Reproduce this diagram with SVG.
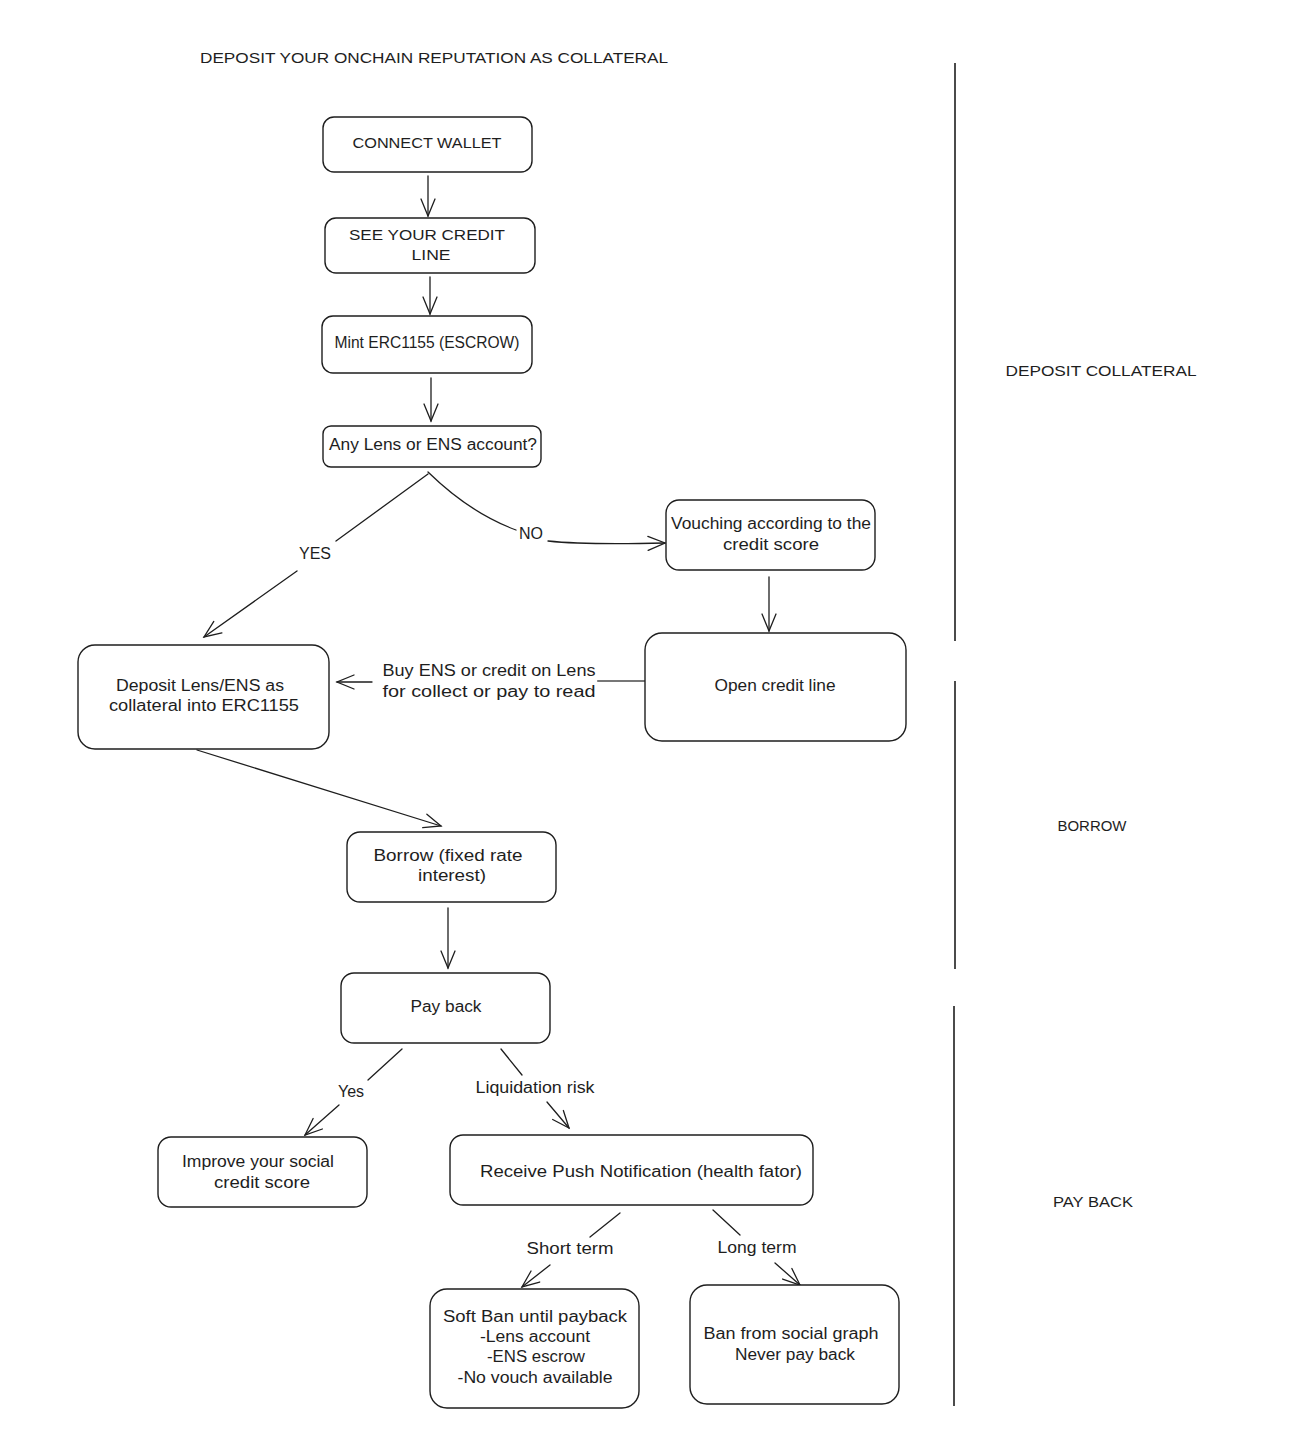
<svg xmlns="http://www.w3.org/2000/svg" width="1298" height="1434" viewBox="0 0 1298 1434">
<style>
.box{fill:#ffffff;stroke:#1e1e1e;stroke-width:1.4}
.t{font-family:"Liberation Sans","DejaVu Sans",sans-serif;font-size:16px;fill:#1e1e1e;text-anchor:middle}
.c{font-family:"Liberation Sans","DejaVu Sans",sans-serif;font-size:15px;fill:#1e1e1e;text-anchor:middle}
.ln{fill:none;stroke:#1e1e1e;stroke-width:1.3;stroke-linecap:round}
.sep{fill:none;stroke:#1e1e1e;stroke-width:1.6}
</style>
<defs>
<marker id="ah" markerWidth="20" markerHeight="20" refX="0" refY="0" orient="auto" markerUnits="userSpaceOnUse" overflow="visible">
<path d="M-17,-7 L0,0 L-17,7" fill="none" stroke="#1e1e1e" stroke-width="1.3" stroke-linecap="round"/>
</marker>
</defs>
<rect width="1298" height="1434" fill="#ffffff"/>

<g id="title">
<text class="c" x="434" y="63" textLength="468" lengthAdjust="spacingAndGlyphs">DEPOSIT YOUR ONCHAIN REPUTATION AS COLLATERAL</text>
</g>

<g id="sections">
<path class="sep" d="M955 63 L955 641"/>
<path class="sep" d="M955 681 L955 969"/>
<path class="sep" d="M954 1006 L954 1406"/>
<text class="c" x="1101" y="376" textLength="191" lengthAdjust="spacingAndGlyphs">DEPOSIT COLLATERAL</text>
<text class="c" x="1092" y="831" textLength="69" lengthAdjust="spacingAndGlyphs">BORROW</text>
<text class="c" x="1093" y="1207" textLength="80" lengthAdjust="spacingAndGlyphs">PAY BACK</text>
</g>

<g id="connectors">
<path class="ln" d="M428 176 L428 216" marker-end="url(#ah)"/>
<path class="ln" d="M430 277 L430 314" marker-end="url(#ah)"/>
<path class="ln" d="M431 378 L431 421" marker-end="url(#ah)"/>
<path class="ln" d="M428 474 L336 541"/>
<path class="ln" d="M297 571 L204 637" marker-end="url(#ah)"/>
<path class="ln" d="M428 472 Q470 513 516 530"/>
<path class="ln" d="M548 541 Q585 545 665 543" marker-end="url(#ah)"/>
<text class="t" x="315" y="559">YES</text>
<text class="t" x="531" y="539">NO</text>
<path class="ln" d="M769 577 L769 631" marker-end="url(#ah)"/>
<path class="ln" d="M645 681 L598 681" style="stroke:#777;stroke-width:2.2"/>
<path class="ln" d="M372 682 L337 682" marker-end="url(#ah)"/>
<text class="t" x="489" y="676" textLength="213" lengthAdjust="spacingAndGlyphs">Buy ENS or credit on Lens</text>
<text class="t" x="489" y="697" textLength="213" lengthAdjust="spacingAndGlyphs">for collect or pay to read</text>
<path class="ln" d="M197 750 L441 826" marker-end="url(#ah)"/>
<path class="ln" d="M448 908 L448 968" marker-end="url(#ah)"/>
<path class="ln" d="M402 1049 L368 1080"/>
<path class="ln" d="M339 1105 L305 1135" marker-end="url(#ah)"/>
<text class="t" x="351" y="1097">Yes</text>
<path class="ln" d="M501 1049 L522 1075"/>
<path class="ln" d="M547 1102 L569 1128" marker-end="url(#ah)"/>
<text class="t" x="535" y="1093" textLength="119" lengthAdjust="spacingAndGlyphs">Liquidation risk</text>
<path class="ln" d="M620 1213 L590 1237"/>
<path class="ln" d="M550 1265 L522 1287" marker-end="url(#ah)"/>
<text class="t" x="570" y="1254" textLength="87" lengthAdjust="spacingAndGlyphs">Short term</text>
<path class="ln" d="M713 1210 L740 1235"/>
<path class="ln" d="M775 1263 L800 1285" marker-end="url(#ah)"/>
<text class="t" x="757" y="1253" textLength="79" lengthAdjust="spacingAndGlyphs">Long term</text>
</g>

<g id="n1">
<rect class="box" x="323" y="117" width="209" height="55" rx="11"/>
<text class="c" x="427" y="148" textLength="149" lengthAdjust="spacingAndGlyphs">CONNECT WALLET</text>
</g>
<g id="n2">
<rect class="box" x="325" y="218" width="210" height="55" rx="11"/>
<text class="c" x="427" y="240" textLength="156" lengthAdjust="spacingAndGlyphs">SEE YOUR CREDIT</text>
<text class="c" x="431" y="260" textLength="39" lengthAdjust="spacingAndGlyphs">LINE</text>
</g>
<g id="n3">
<rect class="box" x="322" y="316" width="210" height="57" rx="11"/>
<text class="t" x="427" y="348" textLength="185" lengthAdjust="spacingAndGlyphs">Mint ERC1155 (ESCROW)</text>
</g>
<g id="n4">
<rect class="box" x="323" y="426" width="218" height="41" rx="8"/>
<text class="t" x="433" y="450" textLength="208" lengthAdjust="spacingAndGlyphs">Any Lens or ENS account?</text>
</g>
<g id="n5">
<rect class="box" x="666" y="500" width="209" height="70" rx="13"/>
<text class="t" x="771" y="529" textLength="200" lengthAdjust="spacingAndGlyphs">Vouching according to the</text>
<text class="t" x="771" y="550" textLength="96" lengthAdjust="spacingAndGlyphs">credit score</text>
</g>
<g id="n6">
<rect class="box" x="645" y="633" width="261" height="108" rx="17"/>
<text class="t" x="775" y="691" textLength="121" lengthAdjust="spacingAndGlyphs">Open credit line</text>
</g>
<g id="n7">
<rect class="box" x="78" y="645" width="251" height="104" rx="17"/>
<text class="t" x="200" y="691" textLength="168" lengthAdjust="spacingAndGlyphs">Deposit Lens/ENS as</text>
<text class="t" x="204" y="711" textLength="190" lengthAdjust="spacingAndGlyphs">collateral into ERC1155</text>
</g>
<g id="n8">
<rect class="box" x="347" y="832" width="209" height="70" rx="13"/>
<text class="t" x="448" y="861" textLength="149" lengthAdjust="spacingAndGlyphs">Borrow (fixed rate</text>
<text class="t" x="452" y="881" textLength="68" lengthAdjust="spacingAndGlyphs">interest)</text>
</g>
<g id="n9">
<rect class="box" x="341" y="973" width="209" height="70" rx="13"/>
<text class="t" x="446" y="1012" textLength="71" lengthAdjust="spacingAndGlyphs">Pay back</text>
</g>
<g id="n10">
<rect class="box" x="158" y="1137" width="209" height="70" rx="13"/>
<text class="t" x="258" y="1167" textLength="152" lengthAdjust="spacingAndGlyphs">Improve your social</text>
<text class="t" x="262" y="1188" textLength="96" lengthAdjust="spacingAndGlyphs">credit score</text>
</g>
<g id="n11">
<rect class="box" x="450" y="1135" width="363" height="70" rx="13"/>
<text class="t" x="641" y="1177" textLength="322" lengthAdjust="spacingAndGlyphs">Receive Push Notification (health fator)</text>
</g>
<g id="n12">
<rect class="box" x="430" y="1289" width="209" height="119" rx="17"/>
<text class="t" x="535" y="1322" textLength="184" lengthAdjust="spacingAndGlyphs">Soft Ban until payback</text>
<text class="t" x="535" y="1342" textLength="110" lengthAdjust="spacingAndGlyphs">-Lens account</text>
<text class="t" x="536" y="1362" textLength="98" lengthAdjust="spacingAndGlyphs">-ENS escrow</text>
<text class="t" x="535" y="1383" textLength="155" lengthAdjust="spacingAndGlyphs">-No vouch available</text>
</g>
<g id="n13">
<rect class="box" x="690" y="1285" width="209" height="119" rx="17"/>
<text class="t" x="791" y="1339" textLength="175" lengthAdjust="spacingAndGlyphs">Ban from social graph</text>
<text class="t" x="795" y="1360" textLength="120" lengthAdjust="spacingAndGlyphs">Never pay back</text>
</g>
</svg>
